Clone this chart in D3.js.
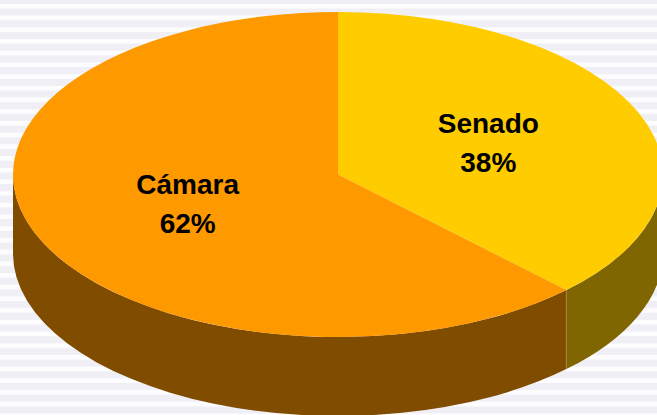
<!DOCTYPE html>
<html>
<head>
<meta charset="utf-8">
<script src="https://cdn.jsdelivr.net/npm/d3@7"></script>
<style>
  html, body { margin: 0; padding: 0; background: #fff; }
  svg { display: block; }
</style>
</head>
<body>
<div id="chart"></div>
<script>
// data
const categories = ["Senado", "Cámara"];
const values = [37.6, 62.4];
const topColors = ["#ffcc00", "#ff9900"];
const sideColors = ["#806600", "#804c00"];

const width = 657;
const height = 415;

const cx = 338;
const cy = 174.5;
const rx = 325;
const ry = 162.5;
const depth = 79;

const svg = d3
  .select("#chart")
  .append("svg")
  .attr("width", width)
  .attr("height", height)
  .style("font-family", "'Liberation Sans', Arial, sans-serif");

// striped background
svg.append("rect").attr("width", width).attr("height", height).attr("fill", "#f0eff6");
svg
  .append("g")
  .selectAll("rect")
  .data(d3.range(4, height, 11.7))
  .join("rect")
  .attr("x", 0)
  .attr("y", (d) => d)
  .attr("width", width)
  .attr("height", 4.5)
  .attr("fill", "#fdfdff");

const data = categories.map((c, i) => ({ name: c, value: values[i], i }));

const pie = d3.pie().sort(null).value((d) => d.value);
const arcs = pie(data);

// project an angle (0 = top, clockwise) onto the top ellipse
const px = (a) => cx + rx * Math.sin(a);
const py = (a) => cy - ry * Math.cos(a);

// side walls: only the front half (pi/2 .. 3pi/2) is visible
function sidePath(d) {
  const a0 = Math.max(d.startAngle, Math.PI / 2);
  const a1 = Math.min(d.endAngle, (3 * Math.PI) / 2);
  if (a1 <= a0) return null;
  const large = a1 - a0 > Math.PI ? 1 : 0;
  return (
    `M${px(a0)},${py(a0)}` +
    `A${rx},${ry} 0 ${large} 1 ${px(a1)},${py(a1)}` +
    `L${px(a1)},${py(a1) + depth}` +
    `A${rx},${ry} 0 ${large} 0 ${px(a0)},${py(a0) + depth}Z`
  );
}

const gSide = svg.append("g").attr("class", "sides");
gSide
  .selectAll("path")
  .data(arcs.filter((d) => sidePath(d)))
  .join("path")
  .attr("d", sidePath)
  .attr("fill", (d) => sideColors[d.data.i]);

// light edge between the two walls
const edgeA = arcs[0].endAngle;
gSide
  .append("line")
  .attr("x1", px(edgeA))
  .attr("y1", py(edgeA))
  .attr("x2", px(edgeA))
  .attr("y2", py(edgeA) + depth)
  .attr("stroke", "#a08a3a")
  .attr("stroke-width", 1);

// top faces, drawn as circular arcs squashed into the ellipse
const arc = d3.arc().innerRadius(0).outerRadius(rx);
svg
  .append("g")
  .attr("class", "tops")
  .attr("transform", `translate(${cx},${cy}) scale(1,${ry / rx})`)
  .selectAll("path")
  .data(arcs)
  .join("path")
  .attr("d", arc)
  .attr("fill", (d) => topColors[d.data.i]);

// labels at half radius
const labelArc = d3.arc().innerRadius(0).outerRadius(rx);
const label = svg
  .append("g")
  .attr("class", "labels")
  .selectAll("text")
  .data(arcs)
  .join("text")
  .attr("text-anchor", "middle")
  .attr("font-size", 28)
  .attr("font-weight", "bold")
  .attr("fill", "#000")
  .each(function (d) {
    const [lx, ly] = labelArc.centroid(d);
    const x = cx + lx;
    const y = cy + ly * (ry / rx);
    const t = d3.select(this);
    t.append("tspan").attr("x", x).attr("y", y - 11).text(d.data.name);
    t.append("tspan")
      .attr("x", x)
      .attr("y", y + 28)
      .text(`${Math.round(d.data.value)}%`);
  });
</script>
</body>
</html>
